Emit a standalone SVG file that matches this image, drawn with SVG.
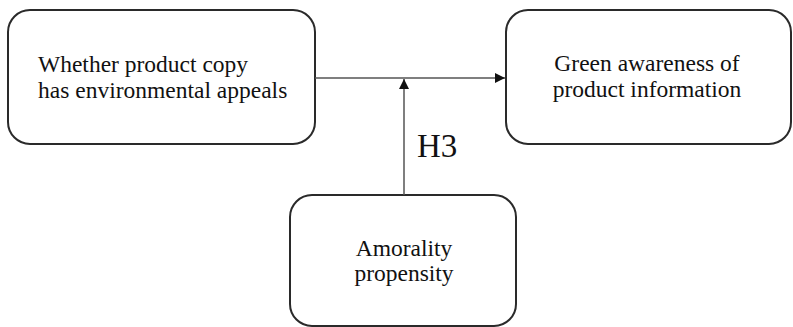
<svg xmlns="http://www.w3.org/2000/svg" width="793" height="327" viewBox="0 0 793 327">
<style>
.box{fill:#fff;stroke:#2a2a2a;stroke-width:2}
.lbl{font-family:"Liberation Serif","Times New Roman",serif;font-size:23.5px;fill:#111;text-anchor:middle}
.start{text-anchor:start}
.conn{stroke:#555;stroke-width:1.5;fill:none}
.edge-lbl{font-family:"Liberation Serif","Times New Roman",serif;font-size:33px;fill:#111}
</style>
<defs>
<marker id="arr" viewBox="0 0 10 10" refX="10" refY="5" markerWidth="10" markerHeight="10" markerUnits="userSpaceOnUse" orient="auto">
<path d="M0,0 L10,5 L0,10 Z" fill="#111"/>
</marker>
</defs>
<rect width="793" height="327" fill="#fff"/>
<g id="node-copy">
<rect class="box" x="8" y="10" width="307" height="134" rx="22"/>
<text class="lbl start" x="38" y="72">Whether product copy</text>
<text class="lbl start" x="38" y="98">has environmental appeals</text>
</g>
<g id="node-green">
<rect class="box" x="506" y="10" width="285" height="134" rx="22"/>
<text class="lbl" x="647" y="71">Green awareness of</text>
<text class="lbl" x="647" y="97">product information</text>
</g>
<g id="node-amorality">
<rect class="box" x="290" y="195" width="226" height="131" rx="22"/>
<text class="lbl" x="404" y="256">Amorality</text>
<text class="lbl" x="404" y="281">propensity</text>
</g>
<g id="connectors">
<line class="conn" x1="315" y1="78" x2="505" y2="78" marker-end="url(#arr)"/>
<line class="conn" x1="404" y1="195" x2="404" y2="79" marker-end="url(#arr)"/>
<text class="edge-lbl" x="417" y="157">H3</text>
</g>
</svg>
